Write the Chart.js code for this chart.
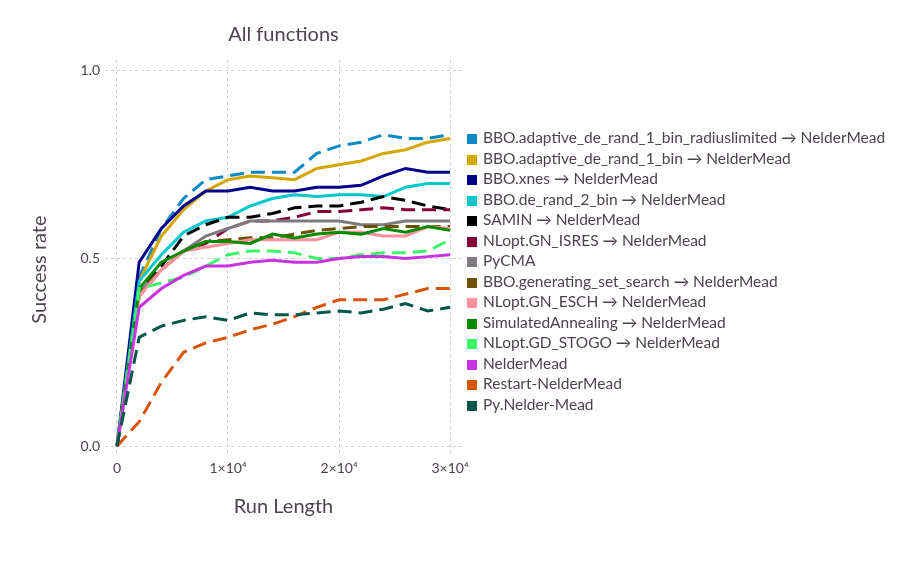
<!DOCTYPE html>
<html>
<head>
<meta charset="utf-8">
<script src="https://cdn.jsdelivr.net/npm/chart.js@4.4.0/dist/chart.umd.min.js"></script>
<style>
  body { margin: 0; background: #fff; }
  #wrap { position: relative; width: 907px; height: 567px; }
  #legend { position: absolute; left: 467px; top: 127px; font: 15.5px Lato, "DejaVu Sans", sans-serif; color: #4d434e; }
  .row { height: 20.5px; line-height: 20.5px; white-space: nowrap; }
  .box { display: inline-block; width: 10px; height: 10px; margin-right: 6px; vertical-align: -1px; }
</style>
</head>
<body>
<div id="wrap">
  <canvas id="c" width="907" height="567"></canvas>
  <div id="legend"></div>
</div>
<script>
const runLengths = [0, 2000, 4000, 6000, 8000, 10000, 12000, 14000, 16000, 18000, 20000, 22000, 24000, 26000, 28000, 30000];

const names = [
  "BBO.adaptive_de_rand_1_bin_radiuslimited \u2192 NelderMead",
  "BBO.adaptive_de_rand_1_bin \u2192 NelderMead",
  "BBO.xnes \u2192 NelderMead",
  "BBO.de_rand_2_bin \u2192 NelderMead",
  "SAMIN \u2192 NelderMead",
  "NLopt.GN_ISRES \u2192 NelderMead",
  "PyCMA",
  "BBO.generating_set_search \u2192 NelderMead",
  "NLopt.GN_ESCH \u2192 NelderMead",
  "SimulatedAnnealing \u2192 NelderMead",
  "NLopt.GD_STOGO \u2192 NelderMead",
  "NelderMead",
  "Restart-NelderMead",
  "Py.Nelder-Mead"
];

const radiusLimited = [0, 0.45, 0.58, 0.66, 0.71, 0.72, 0.73, 0.73, 0.73, 0.78, 0.80, 0.81, 0.83, 0.82, 0.82, 0.83];
const adaptiveDe    = [0, 0.44, 0.56, 0.63, 0.68, 0.71, 0.72, 0.715, 0.71, 0.74, 0.75, 0.76, 0.78, 0.79, 0.81, 0.82];
const xnes          = [0, 0.49, 0.58, 0.64, 0.68, 0.68, 0.69, 0.68, 0.68, 0.69, 0.69, 0.695, 0.72, 0.74, 0.73, 0.73];
const deRand2Bin    = [0, 0.44, 0.51, 0.57, 0.60, 0.61, 0.64, 0.66, 0.67, 0.665, 0.67, 0.67, 0.665, 0.69, 0.70, 0.70];
const samin         = [0, 0.41, 0.48, 0.56, 0.59, 0.61, 0.61, 0.62, 0.635, 0.64, 0.64, 0.65, 0.665, 0.655, 0.64, 0.63];
const gnIsres       = [0, 0.40, 0.47, 0.52, 0.54, 0.58, 0.60, 0.60, 0.61, 0.625, 0.625, 0.63, 0.635, 0.63, 0.63, 0.63];
const pyCma         = [0, 0.41, 0.47, 0.52, 0.56, 0.58, 0.60, 0.60, 0.60, 0.60, 0.60, 0.59, 0.59, 0.60, 0.60, 0.60];
const genSetSearch  = [0, 0.41, 0.47, 0.52, 0.545, 0.55, 0.555, 0.555, 0.565, 0.575, 0.58, 0.585, 0.585, 0.585, 0.585, 0.585];
const gnEsch        = [0, 0.40, 0.47, 0.52, 0.53, 0.54, 0.55, 0.55, 0.55, 0.55, 0.57, 0.57, 0.56, 0.56, 0.585, 0.58];
const simAnnealing  = [0, 0.42, 0.49, 0.52, 0.545, 0.545, 0.54, 0.565, 0.555, 0.565, 0.57, 0.565, 0.58, 0.57, 0.585, 0.575];
const gdStogo       = [0, 0.42, 0.435, 0.45, 0.48, 0.51, 0.52, 0.52, 0.515, 0.50, 0.50, 0.51, 0.515, 0.515, 0.52, 0.55];
const nelderMead    = [0, 0.37, 0.42, 0.455, 0.48, 0.48, 0.49, 0.495, 0.49, 0.49, 0.50, 0.505, 0.505, 0.50, 0.505, 0.51];
const restartNM     = [0, 0.065, 0.17, 0.25, 0.275, 0.29, 0.31, 0.325, 0.345, 0.37, 0.39, 0.39, 0.39, 0.405, 0.42, 0.42];
const pyNelderMead  = [0, 0.29, 0.32, 0.335, 0.345, 0.335, 0.355, 0.35, 0.35, 0.355, 0.36, 0.355, 0.365, 0.38, 0.36, 0.37];

const series = [radiusLimited, adaptiveDe, xnes, deRand2Bin, samin, gnIsres, pyCma,
  genSetSearch, gnEsch, simAnnealing, gdStogo, nelderMead, restartNM, pyNelderMead];
const colors = ["#0a8ac4", "#d4a700", "#00008b", "#00c8cc", "#000000", "#850037", "#7f7a80",
  "#6b5000", "#ff8f9a", "#008b00", "#38f56a", "#c832e0", "#d9530a", "#00574a"];
const dashed = [true, false, false, false, true, true, false, true, false, false, true, false, true, true];

const xTickValues = [0, 10000, 20000, 30000];
const xTickLabels = ["0", "1\u00d710\u2074", "2\u00d710\u2074", "3\u00d710\u2074"];
const yTickValues = [0, 0.5, 1];
const yTickLabels = ["0.0", "0.5", "1.0"];

const textColor = "#4d434e";
const gridColor = "#cfcfe0";
const fontFamily = "Lato, 'DejaVu Sans', sans-serif";

const datasets = series.map((vals, i) => ({
  label: names[i],
  data: vals.map((v, j) => ({ x: runLengths[j], y: v })),
  borderColor: colors[i],
  backgroundColor: colors[i],
  borderWidth: 3,
  borderDash: dashed[i] ? [14, 7] : [],
  pointRadius: 0,
  tension: 0,
  fill: false,
  order: -i
}));

new Chart(document.getElementById("c"), {
  type: "line",
  data: { datasets },
  options: {
    responsive: false,
    animation: false,
    devicePixelRatio: 1,
    layout: { padding: { top: 10, left: 0, right: 445, bottom: 40 } },
    plugins: {
      legend: { display: false },
      tooltip: { enabled: false },
      title: {
        display: true,
        text: "All functions",
        fullSize: false,
        color: textColor,
        font: { family: fontFamily, size: 20, weight: "normal" },
        padding: { top: 13, bottom: 13 }
      }
    },
    scales: {
      x: {
        type: "linear",
        min: -1080,
        max: 31080,
        afterBuildTicks: (s) => { s.ticks = xTickValues.map(v => ({ value: v })); },
        afterFit: (s) => { s.height = 73; },
        ticks: {
          color: textColor,
          padding: 6,
          font: { family: fontFamily, size: 14 },
          callback: (v) => xTickLabels[xTickValues.indexOf(v)]
        },
        grid: { color: gridColor, drawTicks: false, lineWidth: 1 },
        border: { display: false, dash: [3, 3] },
        title: {
          display: true,
          text: "Run Length",
          color: textColor,
          font: { family: fontFamily, size: 20 },
          padding: { top: 0, bottom: 8 }
        }
      },
      y: {
        min: -0.021,
        max: 1.029,
        afterBuildTicks: (s) => { s.ticks = yTickValues.map(v => ({ value: v })); },
        afterFit: (s) => { s.width = 105; },
        ticks: {
          color: textColor,
          padding: 5,
          font: { family: fontFamily, size: 14 },
          callback: (v) => yTickLabels[yTickValues.indexOf(v)]
        },
        grid: { color: gridColor, drawTicks: false, lineWidth: 1 },
        border: { display: false, dash: [3, 3] },
        title: {
          display: true,
          text: "Success rate\u2002\u2002 ",
          color: textColor,
          font: { family: fontFamily, size: 20 },
          padding: { top: 28, bottom: 0 }
        }
      }
    }
  }
});

const legend = document.getElementById("legend");
names.forEach((n, i) => {
  const row = document.createElement("div");
  row.className = "row";
  const box = document.createElement("span");
  box.className = "box";
  box.style.background = colors[i];
  row.appendChild(box);
  row.appendChild(document.createTextNode(n));
  legend.appendChild(row);
});
</script>
</body>
</html>
